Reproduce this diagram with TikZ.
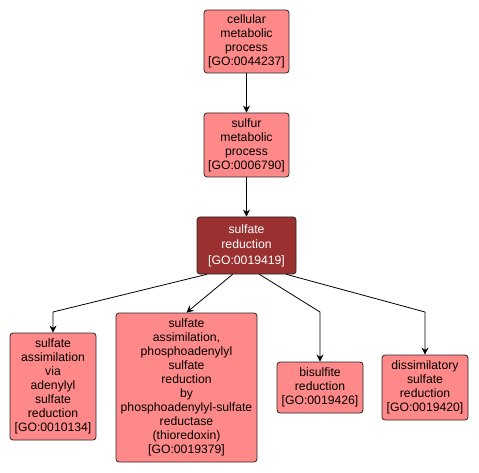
\documentclass[tikz,border=0pt]{standalone}
\usepackage{fontspec}
\setmainfont{Liberation Sans}
\usetikzlibrary{arrows.meta}

\definecolor{termfill}{RGB}{255,137,137}
\definecolor{termsel}{RGB}{155,48,48}

\tikzset{
    goterm/.style={draw=black!85,fill=termfill,rounded corners=3pt,line width=0.8pt,
        align=center,inner sep=0pt,font=\fontsize{12.2}{14}\selectfont},
    goselected/.style={goterm,fill=termsel,text=white,font=\fontsize{12.2}{15.5}\selectfont},
    isa/.style={-{Stealth[length=7pt,width=7pt]},line width=0.8pt}
}

\begin{document}
\begin{tikzpicture}[x=1pt,y=-1pt,line cap=round,line join=round]
        \useasboundingbox (0,0) rectangle (479,473);

        \node[goterm,minimum width=85,minimum height=63] (cmp) at (246.5,41.5)
            {cellular\\metabolic\\process\\{[GO:0044237]}};
        \node[goterm,minimum width=85,minimum height=64] (smp) at (246.5,145)
            {sulfur\\metabolic\\process\\{[GO:0006790]}};
        \node[goselected,minimum width=99,minimum height=57] (sred) at (246.5,245.5)
            {sulfate\\reduction\\{[GO:0019419]}};

        \node[goterm,minimum width=86,minimum height=107] (aps) at (53,386.5)
            {sulfate\\assimilation\\via\\adenylyl\\sulfate\\reduction\\{[GO:0010134]}};
        \node[goterm,minimum width=141,minimum height=149] (paps) at (186.5,387.5)
            {sulfate\\assimilation,\\phosphoadenylyl\\sulfate\\reduction\\by\\phosphoadenylyl-sulfate\\reductase\\(thioredoxin)\\{[GO:0019379]}};
        \node[goterm,minimum width=86,minimum height=51] (bis) at (320,387.5)
            {bisulfite\\reduction\\{[GO:0019426]}};
        \node[goterm,minimum width=86,minimum height=65] (dis) at (425,387.5)
            {dissimilatory\\sulfate\\reduction\\{[GO:0019420]}};

        % bends of the lower edges
        \coordinate (kaps) at (53,312);
        \coordinate (kbis) at (320,312);
        \coordinate (kdis) at (425,312);

        \draw[isa] (cmp) -- (smp);
        \draw[isa] (smp) -- (sred);
        \draw[isa] ([xshift=-40]sred.south) -- (kaps) -- (aps.north);
        \draw[isa] ([xshift=-14]sred.south) -- (paps.north);
        \draw[isa] ([xshift=13]sred.south) -- (kbis) -- (bis.north);
        \draw[isa] ([xshift=40]sred.south) -- (kdis) -- (dis.north);
    \end{tikzpicture}
\end{document}
